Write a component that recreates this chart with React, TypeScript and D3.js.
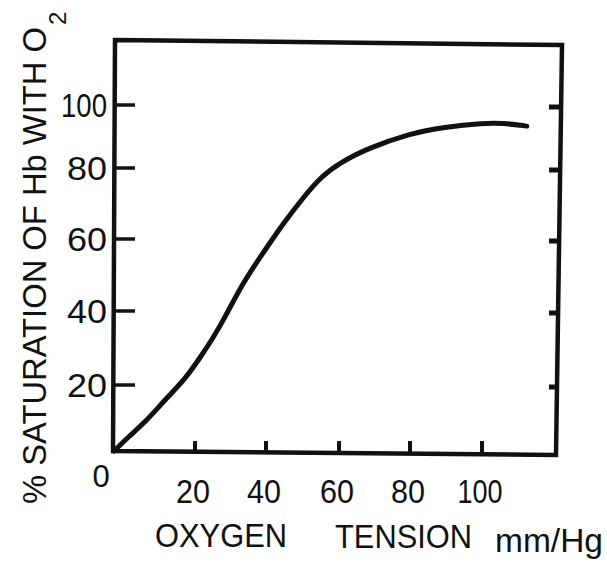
import React from "react";
import * as d3 from "d3";

// --- Data ---
const PO2 = [0, 3.5, 8, 12.8, 17.8, 21.7, 25.1, 28.5, 32.7, 37.2, 41.4, 45.5, 50, 55, 60, 68, 80, 89.4, 100.6, 105.8, 112.8];
const SATURATION = [0, 4.2, 9.1, 15.8, 21.9, 27.8, 32.7, 38.4, 46.4, 53.3, 59.4, 65.4, 71.4, 77.5, 81.5, 86.2, 91, 93, 94.3, 94.3, 93.3];
const X_TICKS = [20, 40, 60, 80, 100];
const Y_TICKS = [20, 40, 60, 80, 100];
const X_MAX = 122;
const Y_MAX = 118;

const W = 607;
const H = 564;
const INK = "#111";
const FONT = "'Liberation Sans', Arial, sans-serif";

export default function App() {
  // hand-drawn axes are not quite uniform, so the scales are piecewise
  const x = d3
    .scaleLinear()
    .domain([0, 20, 40, 60, 80, 100, X_MAX])
    .range([114, 195, 266, 339, 410, 482, 559]);
  const y = d3
    .scaleLinear()
    .domain([0, 20, 40, 60, 80, 100, Y_MAX])
    .range([451, 385, 311, 239, 168, 105, 42]);

  // basis smooths out the small reading errors in the points
  const line = d3
    .line<number>()
    .x((d) => x(d))
    .y((_, i) => y(SATURATION[i]))
    .curve(d3.curveBasis);

  const left = x(0);
  const right = x(X_MAX);
  const top = y(Y_MAX);
  const bottom = y(0);

  // slight skew of the printed frame
  const frame = `M${left + 1},${top - 2} L${right + 3},${top + 3} L${right - 3},${bottom + 4} L${left - 1},${bottom} Z`;

  return (
    <svg
      width={W}
      height={H}
      style={{ position: "absolute", left: 0, top: 0, background: "#fff" }}
    >
      <rect width={W} height={H} fill="#fff" />

      <path d={frame} fill="none" stroke={INK} strokeWidth={4.5} strokeLinejoin="miter" />

      {/* left / right ticks + labels */}
      {Y_TICKS.map((t) => (
        <g key={"y" + t}>
          <line x1={left} x2={left + 21} y1={y(t)} y2={y(t)} stroke={INK} strokeWidth={3.5} />
          <line x1={right - 10} x2={right} y1={y(t) + 2} y2={y(t) + 2} stroke={INK} strokeWidth={5} />
          <text
            x={107}
            y={y(t) + 12}
            textAnchor="end"
            fontFamily={FONT}
            fontSize={33}
            fill={INK}
            textLength={t === 100 ? 46 : 40}
            lengthAdjust="spacingAndGlyphs"
          >
            {t}
          </text>
        </g>
      ))}

      {/* bottom ticks + labels */}
      {X_TICKS.map((t) => (
        <g key={"x" + t}>
          <line
            x1={x(t)}
            x2={x(t)}
            y1={bottom + 2}
            y2={bottom - 10}
            stroke={INK}
            strokeWidth={4}
          />
          <text
            x={x(t) - 2}
            y={503}
            textAnchor="middle"
            fontFamily={FONT}
            fontSize={33}
            fill={INK}
            textLength={t === 100 ? 45 : 34}
            lengthAdjust="spacingAndGlyphs"
          >
            {t}
          </text>
        </g>
      ))}
      <text x={101} y={487} textAnchor="middle" fontFamily={FONT} fontSize={31} fill={INK}>
        0
      </text>

      {/* curve */}
      <path
        d={line(PO2) || ""}
        fill="none"
        stroke={INK}
        strokeWidth={5}
        strokeLinecap="round"
        strokeLinejoin="round"
      />

      {/* x title */}
      <g fontFamily={FONT} fontSize={34} fill={INK}>
        <text x={155} y={547} textLength={132} lengthAdjust="spacingAndGlyphs">
          OXYGEN
        </text>
        <text x={335} y={548} textLength={137} lengthAdjust="spacingAndGlyphs">
          TENSION
        </text>
        <text x={495} y={552} textLength={108} lengthAdjust="spacingAndGlyphs">
          mm/Hg
        </text>
      </g>

      {/* y title */}
      <g transform="translate(46,504) rotate(-90)" fontFamily={FONT} fill={INK}>
        <text x={0} y={0} fontSize={34} textLength={477} lengthAdjust="spacingAndGlyphs">
          % SATURATION OF Hb WITH O
        </text>
        <text x={479} y={20} fontSize={24}>
          2
        </text>
      </g>
    </svg>
  );
}
